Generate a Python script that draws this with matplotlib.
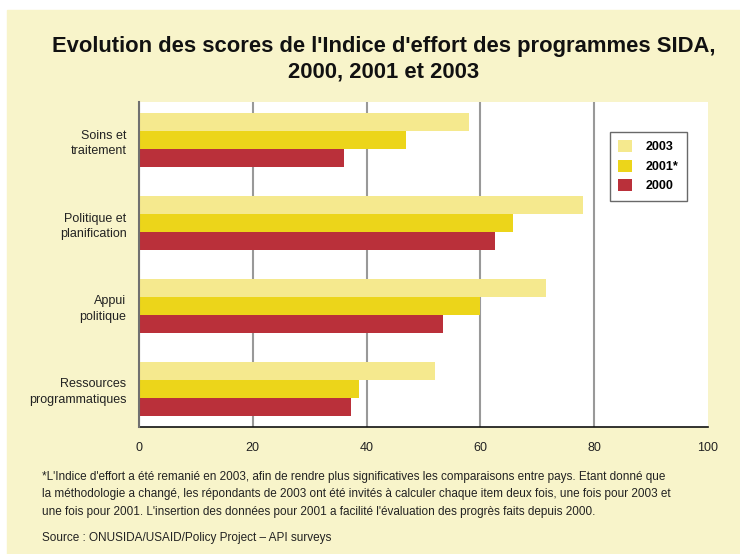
import numpy as np
import matplotlib
matplotlib.use('Agg')
import matplotlib.pyplot as plt
from matplotlib.patches import Rectangle, Patch

plt.rcParams['font.family'] = ['Liberation Sans', 'DejaVu Sans']

categories = ['Soins et\ntraitement', 'Politique et\nplanification',
              'Appui\npolitique', 'Ressources\nprogrammatiques']
series = ['2003', '2001*', '2000']
scores_2003 = [58, 78, 71.5, 52]
scores_2001 = [47, 65.7, 60, 38.7]
scores_2000 = [36, 62.5, 53.4, 37.3]
xticks = [0, 20, 40, 60, 80, 100]

colors = ['#F5E98E', '#ECD51A', '#BA303A']
cream = '#F8F4CA'

fig = plt.figure(figsize=(7.4, 5.54), dpi=100, facecolor='white')
# cream panel behind everything
fig.patches.append(Rectangle((7 / 740, 0), 1, 1 - 10 / 554,
                             transform=fig.transFigure, color=cream, zorder=-5))

ax = fig.add_axes([139 / 740, 1 - 427 / 554, 569 / 740, 325 / 554])
ax.set_facecolor('white')

y = np.arange(len(categories))
h = 0.217
values = [scores_2003, scores_2001, scores_2000]
for k, (vals, c, lab) in enumerate(zip(values, colors, series)):
    ax.barh(y + (k - 1) * h, vals, height=h, color=c, label=lab,
            edgecolor='none', zorder=3)

ax.set_xlim(0, 100)
ax.set_ylim(3.458, -0.458)
ax.set_xticks(xticks)
ax.set_yticks(y)
ax.set_yticklabels(categories, fontsize=9, linespacing=1.4)
ax.tick_params(axis='both', length=0, colors='#222222', labelsize=9)
ax.tick_params(axis='y', pad=9)
ax.tick_params(axis='x', pad=11)
ax.grid(axis='x', color='#999999', linewidth=1.5, zorder=1)
ax.get_xgridlines()[-1].set_visible(False)
ax.set_axisbelow(True)
for s in ['top', 'right']:
    ax.spines[s].set_visible(False)
ax.spines['left'].set_color('#707070')
ax.spines['left'].set_linewidth(1.5)
ax.spines['left'].set_zorder(4)
ax.spines['bottom'].set_color('#111111')
ax.spines['bottom'].set_linewidth(1.2)

handles = [Patch(facecolor=c, edgecolor='none', label=l) for c, l in zip(colors, series)]
leg = ax.legend(handles=handles, loc='upper left',
                bbox_to_anchor=((610 - 139) / 569, (427 - 132) / 325),
                frameon=True, fancybox=False, edgecolor='#444444',
                prop={'weight': 'bold', 'size': 9}, handlelength=1.1,
                handleheight=1.1, handletextpad=1.1, borderpad=0.65,
                labelspacing=0.5, borderaxespad=0)
leg.get_frame().set_linewidth(1.0)

fig.text(384 / 740, 1 - 59 / 554,
         "Evolution des scores de l'Indice d'effort des programmes SIDA,\n2000, 2001 et 2003",
         ha='center', va='center', fontsize=15.8, fontweight='bold',
         linespacing=1.3, color='#111111')

note = ("*L'Indice d'effort a été remanié en 2003, afin de rendre plus significatives les comparaisons entre pays. Etant donné que\n"
        "la méthodologie a changé, les répondants de 2003 ont été invités à calculer chaque item deux fois, une fois pour 2003 et\n"
        "une fois pour 2001. L'insertion des données pour 2001 a facilité l'évaluation des progrès faits depuis 2000.")
fig.text(42 / 740, 1 - 471 / 554, note, ha='left', va='top', fontsize=8.5,
         linespacing=1.6, color='#222222')
fig.text(42 / 740, 1 - 538 / 554, 'Source : ONUSIDA/USAID/Policy Project – API surveys',
         ha='left', va='center', fontsize=8.5, color='#222222')

fig.savefig('out.png', dpi=100, facecolor=fig.get_facecolor())
